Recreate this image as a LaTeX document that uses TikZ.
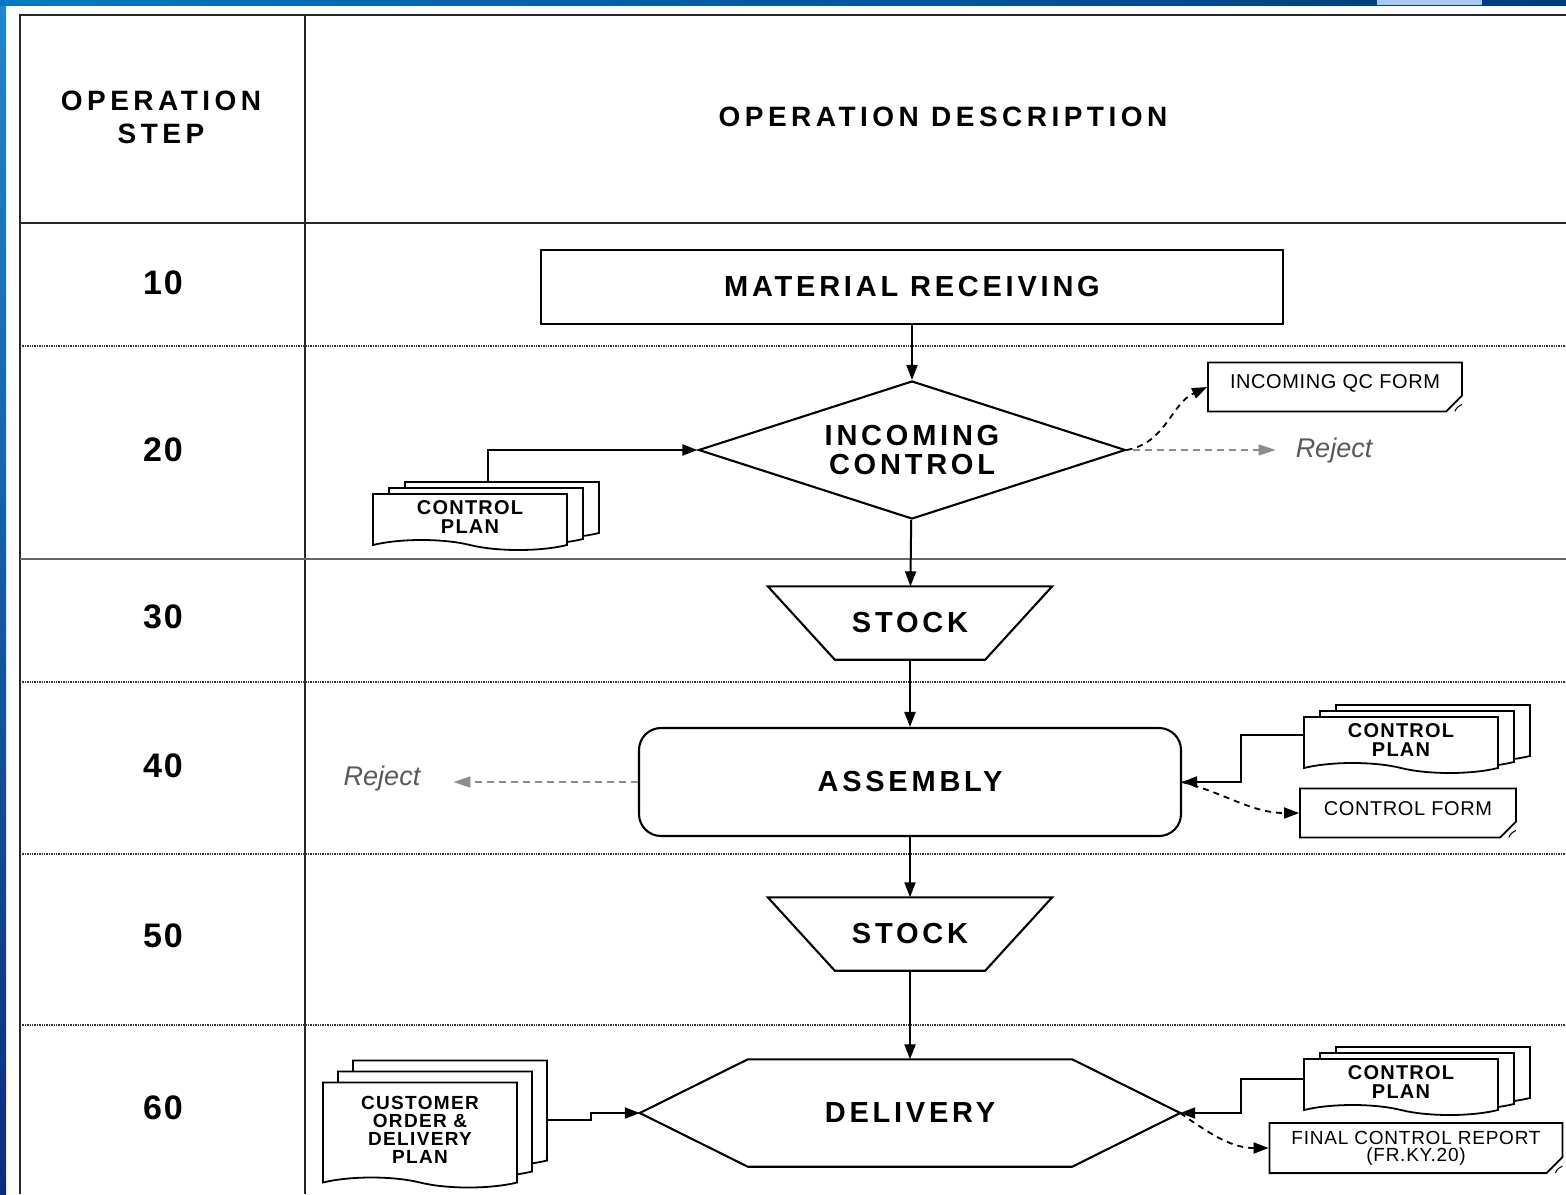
\documentclass[tikz,border=0pt]{standalone}
\usepackage{fontspec}
\setmainfont{Liberation Sans}
\usetikzlibrary{arrows.meta,shapes.geometric,shapes.misc,shapes.symbols,shadows,calc}
\definecolor{frametop}{RGB}{30,134,207}
\definecolor{framebot}{RGB}{12,45,125}
\definecolor{barleft}{RGB}{10,118,194}
\definecolor{barright}{RGB}{0,58,126}
\definecolor{barlight}{RGB}{170,202,224}

\begin{document}
\begin{tikzpicture}[
    x=1pt, y=-1pt,
    tableline/.style={line width=1.8pt, black!85},
    rowline/.style={line width=1.4pt, densely dotted, black!80},
    arr/.style={draw, line width=2pt, -{Triangle[length=15pt,width=11pt]}},
    dasharr/.style={draw, line width=1.8pt, dash pattern=on 6pt off 5pt, -{Triangle[length=15pt,width=11pt]}},
    rejarr/.style={draw, line width=1.5pt, black!45, dash pattern=on 7pt off 5pt, -{Triangle[length=17pt,width=11pt]}},
    headtext/.style={font=\fontsize{28}{33}\selectfont\bfseries\addfontfeature{LetterSpace=16}, align=center},
    steplabel/.style={font=\fontsize{34}{36}\selectfont\bfseries\addfontfeature{LetterSpace=6}},
    bigtext/.style={font=\fontsize{29}{29}\selectfont\bfseries\addfontfeature{LetterSpace=13}, align=center},
    shapeline/.style={draw, line width=2.1pt, inner sep=0pt},
    procbox/.style={shapeline, fill=white, bigtext, rectangle, minimum width=742pt, minimum height=74pt},
    decision/.style={shapeline, fill=white, bigtext, diamond, aspect=3.1, minimum width=427pt, minimum height=138pt},
    stockbox/.style={bigtext, rectangle, inner sep=0pt, minimum width=284pt, minimum height=73pt},
    opbox/.style={shapeline, fill=white, bigtext, rectangle, rounded corners=22pt, minimum width=542pt, minimum height=108pt},
    hexbox/.style={bigtext, rectangle, inner sep=0pt, minimum width=540pt, minimum height=107pt},
    docfront/.style={draw, line width=1.8pt, fill=white, tape, tape bend top=none, tape bend bottom=out and in,
        tape bend height=10pt, minimum width=194pt, inner sep=0pt, align=center,
        font=\fontsize{20}{19}\selectfont\bfseries\addfontfeature{LetterSpace=6}},
    cpstack/.style={docfront, minimum height=56pt,
        copy shadow={shadow xshift=32pt, shadow yshift=12pt},
        copy shadow={shadow xshift=16pt, shadow yshift=6pt}},
    custstack/.style={docfront, minimum height=105pt, font=\fontsize{19}{18}\selectfont\bfseries\addfontfeature{LetterSpace=7},
        copy shadow={shadow xshift=30pt, shadow yshift=22pt},
        copy shadow={shadow xshift=15pt, shadow yshift=11pt}},
    formbox/.style={draw, line width=1.8pt, fill=white, chamfered rectangle, chamfered rectangle corners=south east,
        chamfered rectangle xsep=8pt, chamfered rectangle ysep=8pt, inner sep=0pt, align=center,
        font=\fontsize{20}{18}\selectfont\addfontfeature{LetterSpace=3}},
    rejtext/.style={font=\fontsize{27}{28}\selectfont\itshape, text=black!65, inner sep=0pt}
]
    \useasboundingbox (0,0) rectangle (1566,1194);
    % blue slide frame
    \fill[white] (0,0) rectangle (1566,1194);
    \shade[top color=frametop, bottom color=framebot] (0,0) rectangle (6,1194);
    \shade[left color=barleft, right color=barright] (0,0) rectangle (1566,5);
    \fill[barlight] (1377,0) rectangle (1482,5);

    % table
    \draw[tableline] (20,1194) -- (20,15) -- (1566,15);
    \draw[tableline] (305,15) -- (305,1194);
    \draw[tableline] (20,223) -- (1566,223);
    \draw[line width=1.3pt, black!60] (20,559) -- (1566,559);
    \foreach \y in {346,682,854,1025}
        \draw[rowline] (20,\y) -- (1566,\y);

    \node[headtext] (hstep) at (161,117) {OPERATION\\STEP};
    \node[headtext] (hdesc) at (943,117) {OPERATION DESCRIPTION};
    \foreach \n/\y in {10/283,20/450,30/617,40/766,50/936,60/1108}
        \node[steplabel] (s\n) at (163,\y) {\n};

    % process flow
    \node[procbox] (mr) at (912,287) {MATERIAL RECEIVING};
    \node[decision] (ic) at (912,450) {INCOMING\\CONTROL};
    \node[stockbox] (st30) at (910,623) {STOCK};
    \node[opbox] (asm) at (910,782) {ASSEMBLY};
    \node[stockbox] (st50) at (910,934) {STOCK};
    \node[hexbox] (dlv) at (910,1113) {DELIVERY};
    \foreach \s in {st30,st50}
        \draw[shapeline] (\s.north west) -- (\s.north east) -- ([xshift=-67pt]\s.south east)
            -- ([xshift=67pt]\s.south west) -- cycle;
    \draw[shapeline] (dlv.west) -- ([xshift=108pt]dlv.north west) -- ([xshift=-108pt]dlv.north east)
        -- (dlv.east) -- ([xshift=-108pt]dlv.south east) -- ([xshift=108pt]dlv.south west) -- cycle;

    \draw[arr] (mr) -- (ic);
    \draw[arr] (ic) -- (st30);
    \draw[arr] (st30) -- (asm);
    \draw[arr] (asm) -- (st50);
    \draw[arr] (st50) -- (dlv);

    % documents
    \node[cpstack] (cp20) at (470,517) {CONTROL\\PLAN};
    \node[cpstack] (cp40) at (1401,740) {CONTROL\\PLAN};
    \node[cpstack] (cp60) at (1401,1082) {CONTROL\\PLAN};
    \node[custstack] (cust60) at (420,1130) {CUSTOMER\\ORDER \&\\DELIVERY\\PLAN};

    \node[formbox, minimum width=254pt, minimum height=49pt, text depth=10pt] (qcform) at (1335,387) {INCOMING QC FORM};
    \node[formbox, minimum width=216pt, minimum height=49pt, text depth=8pt] (cform) at (1408,813) {CONTROL FORM};
    \node[formbox, minimum width=293pt, minimum height=50pt, font=\fontsize{19}{17}\selectfont\addfontfeature{LetterSpace=4}]
        (fcr) at (1416,1148) {FINAL CONTROL REPORT\\(FR.KY.20)};
    \foreach \f in {qcform,cform,fcr}
        \draw[line width=1pt] ($(\f.south -| \f.east)+(-8,-1)$) .. controls ($(\f.south -| \f.east)+(-6,-5)$) .. ($(\f.south -| \f.east)+(-1,-8)$);

    \node[rejtext] (rej20) at (1334,451) {Reject};
    \node[rejtext] (rej40) at (382,779) {Reject};

    \draw[arr] ([xshift=18pt,yshift=12pt]cp20.north) |- (ic.west);
    \draw[arr] ([yshift=5pt]cp40.west) -- ++(-62,0) |- (asm.east);
    \draw[arr] ([yshift=3pt]cp60.west) -- ++(-62,0) |- (dlv.east);
    \draw[arr] ([xshift=30pt,yshift=10pt]cust60.east) -- ++(43,0) |- (dlv.west);

    \draw[dasharr] (ic.east) to[out=10, in=205] (qcform.west);
    \draw[dasharr] (asm.east) to[out=-15, in=180] (cform.west);
    \draw[dasharr] (dlv.east) to[out=-35, in=180] (fcr.west);

    \draw[rejarr, shorten <=6pt, shorten >=20pt] (ic.east) -- (ic.east -| rej20.west);
    \draw[rejarr, shorten >=33pt] (asm.west) -- (asm.west -| rej40.east);
\end{tikzpicture}
\end{document}
